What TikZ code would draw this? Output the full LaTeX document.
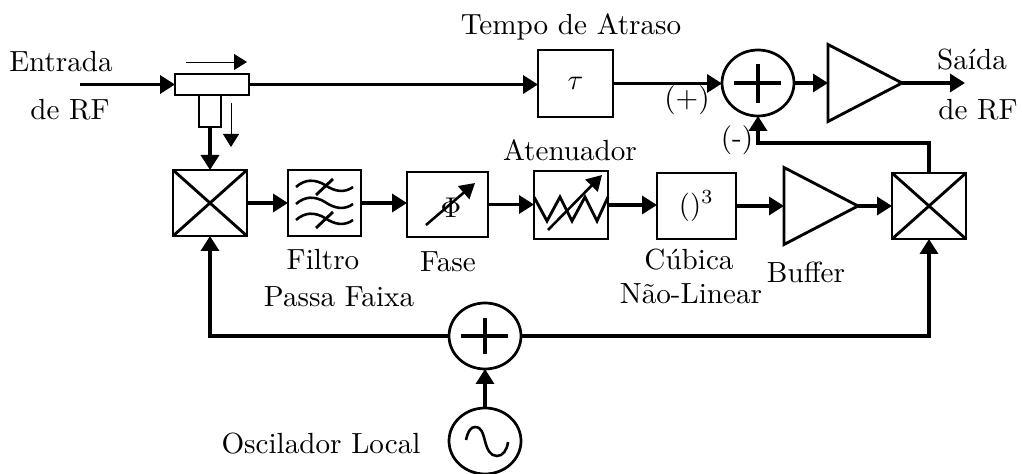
\documentclass[tikz,border=0pt]{standalone}
\usetikzlibrary{arrows.meta,shapes.geometric,calc}
\def\u{.35pt}
\tikzset{
  x=.35pt,y=-.35pt,
  block/.style={draw,line width=1pt,inner sep=0pt,outer sep=0pt},
  circ/.style={ellipse,draw,line width=.95pt,inner sep=0pt,outer sep=0pt,minimum width=72*\u,minimum height=66*\u},
  amp/.style={isosceles triangle,isosceles triangle stretches,shape border rotate=0,draw,line width=1pt,inner sep=0pt,outer sep=0pt,minimum width=77*\u,minimum height=74*\u,anchor=west},
  lab/.style={inner sep=0pt,outer sep=0pt,font=\fontsize{10.2}{12}\selectfont},
  tip/.style={-{Triangle[length=15*\u,width=18*\u]}},
  wire/.style={tip,line width=1.2pt},
  thinarrow/.style={-{Triangle[length=13*\u,width=16*\u]},line width=.3pt},
  inner line/.style={line width=1pt},
  wave/.style={line width=.9pt},
}
\begin{document}
\begin{tikzpicture}
\useasboundingbox (0,0) rectangle (1022,474);
% blocks
\node[block,minimum width=74*\u,minimum height=21*\u] (coupler) at (212,84.5) {};
\node[block,minimum width=22*\u,minimum height=32*\u] (arm) at (210,111) {};
\node[block,minimum width=75*\u,minimum height=67*\u] (tau) at (575.5,83.5) {$\tau$};
\node[block,minimum width=74*\u,minimum height=66*\u] (mixa) at (210,203) {};
\node[block,minimum width=73*\u,minimum height=66*\u] (filter) at (324.5,203) {};
\node[block,minimum width=81*\u,minimum height=65*\u] (phase) at (447.5,204.5) {};
\node[block,minimum width=74*\u,minimum height=68*\u] (atten) at (571,205) {};
\node[block,minimum width=79*\u,minimum height=66*\u] (cubic) at (696.5,206) {$()^3$};
\node[block,minimum width=74*\u,minimum height=66*\u] (mixb) at (929,206) {};
\node[amp] (buffer) at (784,206) {};
\node[amp] (outamp) at (828,83) {};
\node[circ] (sumtop) at (758,83) {};
\node[circ] (sumlo) at (485,336) {};
\node[circ] (osc) at (485,441) {};
% mixer crosses
\foreach \m in {mixa,mixb}{
  \draw[inner line] (\m.north west) -- (\m.south east) (\m.north east) -- (\m.south west);
}
% summer crosses
\draw[line width=1.2pt] (734,83) -- (781,83) (758,64) -- (758,103);
\draw[line width=1.2pt] (461,336) -- (508,336) (485,318) -- (485,354);
% filter symbol
\foreach \d in {0,17,33}{
  \draw[wave] (296,187+\d) .. controls (305,179+\d) and (315,179+\d) .. (325,185+\d) .. controls (335,192+\d) and (345,193+\d) .. (353,187+\d);
}
\draw[inner line] (316,195) -- (333,179) (316,228) -- (333,212);
% phase symbol
\node[lab] (phi) at (451,208) {$\Phi$};
\draw[line width=.9pt,-{Triangle[length=15*\u,width=17*\u]}] (426,225) -- (475,183);
% attenuator symbol
\draw[inner line] (534,197) -- (547,221) -- (560,197) -- (572,221) -- (585,197) -- (597,221) -- (608,197);
\draw[line width=.9pt,-{Triangle[length=15*\u,width=17*\u]}] (548,230) -- (602,175);
% oscillator symbol
\draw[wave] (466,440) .. controls (468,431) and (471,427) .. (475,427) .. controls (482,427) and (483,434) .. (485,441) .. controls (487,449) and (490,456) .. (497,456) .. controls (503,456) and (507,450) .. (508,442);
% connectors
\coordinate (inp) at (80,84.5);
\coordinate (outp) at (965,83);
\draw[wire] (inp) -- (coupler.west);
\draw[wire] (coupler.east) -- (coupler.east -| tau.west);
\draw[wire] (tau.east) -- (tau.east -| sumtop.west);
\draw[wire] (sumtop.east) -- (outamp.west);
\draw[wire] (outamp.east) -- (outp);
\draw[wire] (arm.south) -- (mixa.north);
\draw[wire] (mixa.east) -- (mixa.east -| filter.west);
\draw[wire] (filter.east) -- (filter.east -| phase.west);
\draw[wire] (phase.east) -- (phase.east -| atten.west);
\draw[wire] (atten.east) -- (atten.east -| cubic.west);
\draw[wire] (cubic.east) -- (buffer.west);
\draw[wire] (buffer.east) -- (mixb.west);
\draw[wire] (sumlo.west) -| (mixa.south);
\draw[wire] (sumlo.east) -| (mixb.south);
\draw[wire] (osc.north) -- (sumlo.south);
\coordinate (fb) at (929,143);
\draw[wire] (mixb.north) -- (fb) -| (sumtop.south);
% direction arrows
\coordinate (da) at (186,62); \coordinate (db) at (247,62);
\coordinate (dc) at (231,103); \coordinate (dd) at (231,147);
\draw[thinarrow] (da) -- (db);
\draw[thinarrow] (dc) -- (dd);
% labels
\node[lab] (t1) at (571,27) {Tempo de Atraso};
\node[lab] (t2) at (61,62) {Entrada};
\node[lab] (t3) at (70,110) {de RF};
\node[lab] (t4) at (687,100) {(+)};
\node[lab] (t5) at (737,140) {(-)};
\node[lab] (t6) at (972,60) {Saída};
\node[lab] (t7) at (978,110) {de RF};
\node[lab] (t8) at (570,150) {Atenuador};
\node[lab] (t9) at (323,260) {Filtro};
\node[lab] (t10) at (339,297) {Passa Faixa};
\node[lab] (t11) at (448,262) {Fase};
\node[lab] (t12) at (689,260) {Cúbica};
\node[lab] (t13) at (691,294) {Não-Linear};
\node[lab] (t14) at (806,272) {Buffer};
\node[lab] (t15) at (321,444) {Oscilador Local};
\end{tikzpicture}
\end{document}
